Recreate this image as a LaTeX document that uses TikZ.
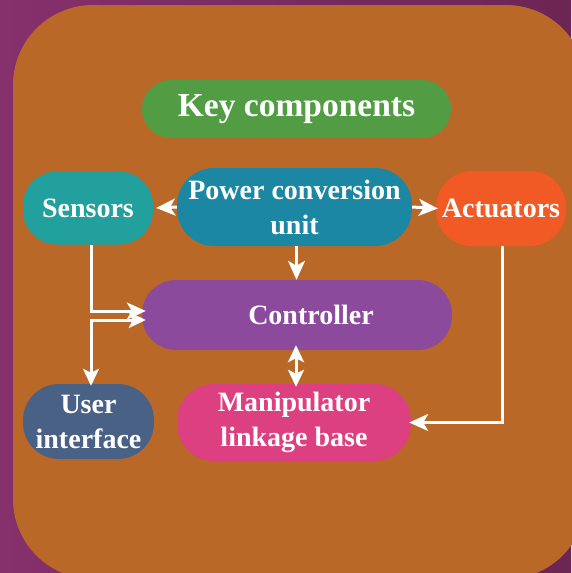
\documentclass[tikz,border=0pt]{standalone}
\usepackage{fontspec}
\setmainfont{Liberation Serif}
\usetikzlibrary{arrows.meta,calc}
\definecolor{bgleft}{HTML}{86306C}
\definecolor{bgright}{HTML}{6C2555}
\definecolor{panel}{HTML}{BA6827}
\definecolor{keygreen}{HTML}{529C43}
\definecolor{senteal}{HTML}{22A09E}
\definecolor{pcublue}{HTML}{1B87A2}
\definecolor{actorange}{HTML}{F15A25}
\definecolor{ctlpurple}{HTML}{8C4A9C}
\definecolor{uiblue}{HTML}{4A6186}
\definecolor{manpink}{HTML}{DD4080}
\begin{document}
\begin{tikzpicture}[x=1pt,y=-1pt,
  box/.style={draw=none, text=white, align=center, inner sep=0pt,
    font=\fontsize{28}{35}\selectfont\bfseries},
  arr/.style={draw=white, line width=3pt, -{Stealth[length=19pt,width=17pt,inset=5pt]}},
  darr/.style={draw=white, line width=3pt, {Stealth[length=17pt,width=16pt,inset=4pt]}-{Stealth[length=17pt,width=16pt,inset=4pt]}}]
\useasboundingbox (0,0) rectangle (571,573);
\shade[left color=bgleft, right color=bgright] (0,0) rectangle (571,573);
\fill[panel, rounded corners=80pt] (13,5) rectangle (586,579);

\node[box, fill=keygreen, minimum width=309pt, minimum height=58pt, rounded corners=29pt,
  font=\fontsize{33.5}{40}\selectfont\bfseries] (key) at (296.5,109) {Key components};
\node[box, fill=senteal, minimum width=130pt, minimum height=73pt, rounded corners=34pt] (sen) at (88,208) {Sensors};
\node[box, fill=pcublue, minimum width=235pt, minimum height=78pt, rounded corners=37pt] (pcu) at (294.5,207) {Power conversion\\unit};
\node[box, fill=actorange, minimum width=130pt, minimum height=75pt, rounded corners=36pt] (act) at (501,208.5) {Actuators};
\node[box, fill=ctlpurple, minimum width=310pt, minimum height=70pt, rounded corners=34pt] (ctl) at (297,315) {\hspace*{28pt}Controller};
\node[box, fill=uiblue, minimum width=131pt, minimum height=75pt, rounded corners=36pt] (ui) at (88.5,421.5) {User\\interface};
\node[box, fill=manpink, minimum width=234pt, minimum height=77pt, rounded corners=37pt] (man) at (294,422.5) {Manipulator\\linkage base};

\draw[arr] (pcu.west) -- ([xshift=3pt]sen.east);
\draw[arr] (pcu.east) -- ([xshift=2pt]act.west);
\draw[arr] ([xshift=2pt]pcu.south) -- ([xshift=2pt]pcu.south |- ctl.north);
\draw[arr] ([xshift=3pt]sen.south) |- ([xshift=4pt,yshift=4pt]ctl.west);
\draw[darr] ([xshift=2.5pt,yshift=-2pt]ui.north) |- ([xshift=4pt,yshift=-5pt]ctl.west);
\draw[darr] ([xshift=-1pt,yshift=5pt]ctl.south) -- ([xshift=-1pt,yshift=-3pt]ctl.south |- man.north);
\draw[arr] ([xshift=1pt]act.south) |- ([xshift=-2pt]man.east);
\end{tikzpicture}
\end{document}
